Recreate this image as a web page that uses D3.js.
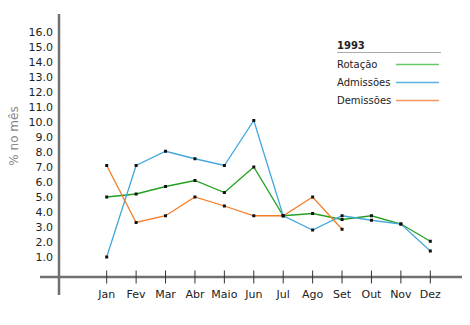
<!DOCTYPE html>
<html><head><meta charset="utf-8">
<script src="https://cdn.jsdelivr.net/npm/d3@7"></script>
<style>body{margin:0;background:#fff}svg{display:block}</style>
</head><body>
<svg id="c" width="470" height="325"></svg>
<script>
const months = ["Jan","Fev","Mar","Abr","Maio","Jun","Jul","Ago","Set","Out","Nov","Dez"];
const rotacao = [5.0, 5.2, 5.7, 6.1, 5.3, 7.0, 3.75, 3.9, 3.5, 3.75, 3.2, 2.05];
const admissoes = [1.0, 7.1, 8.05, 7.55, 7.1, 10.1, 3.75, 2.8, 3.75, 3.45, 3.2, 1.4];
const demissoes = [7.1, 3.3, 3.75, 5.0, 4.4, 3.75, 3.75, 5.0, 2.85, null, null, null];
const yTicks = [1,2,3,4,5,6,7,8,9,10,11,12,13,14,15,16];
const seriesNames = ["Rotação","Admissões","Demissões"];
const legendTitle = "1993";
const yTitle = "% no mês";

const lineColors = ["#22a022","#45a7dc","#f57c28"];
const legendColors = ["#66c766","#5ab0e0","#f8965c"];
const series = [rotacao, admissoes, demissoes];

const svg = d3.select("#c");
const font = "DejaVu Sans, Verdana, sans-serif";
const x = d3.scalePoint().domain(months).range([106.7, 430.3]);
const y = d3.scaleLinear().domain([0, 16]).range([272, 32]);

// axes lines
svg.append("line").attr("x1",59).attr("x2",59).attr("y1",14).attr("y2",295)
  .attr("stroke","#707070").attr("stroke-width",2.5);
svg.append("line").attr("x1",40).attr("x2",462).attr("y1",277).attr("y2",277)
  .attr("stroke","#707070").attr("stroke-width",2.5);

// y ticks labels
svg.append("g").selectAll("text").data(yTicks).join("text")
  .attr("x",53).attr("y",d=>y(d)).attr("dy","0.35em").attr("text-anchor","end")
  .attr("font-family",font).attr("font-size",11).attr("fill","#222")
  .text(d=>d3.format(".1f")(d));

// x ticks
const xg = svg.append("g");
xg.selectAll("line").data(months).join("line")
  .attr("x1",d=>x(d)).attr("x2",d=>x(d)).attr("y1",270.5).attr("y2",283.5)
  .attr("stroke","#333").attr("stroke-width",1);
xg.selectAll("text").data(months).join("text")
  .attr("x",d=>x(d)).attr("y",294).attr("dy","0.35em").attr("text-anchor","middle")
  .attr("font-family",font).attr("font-size",11).attr("fill","#222").text(d=>d);

// y title
svg.append("text").attr("transform","translate(18,136) rotate(-90)")
  .attr("text-anchor","middle").attr("font-family",font).attr("font-size",12)
  .attr("fill","#888").text(yTitle);

// lines
const line = d3.line().defined(d=>d.v!=null).x(d=>x(d.m)).y(d=>y(d.v));
series.forEach((s,i)=>{
  const data = months.map((m,j)=>({m, v:s[j]}));
  svg.append("path").datum(data).attr("d",line).attr("fill","none")
    .attr("stroke",lineColors[i]).attr("stroke-width",1.3);
});
series.forEach((s,i)=>{
  const data = months.map((m,j)=>({m, v:s[j]})).filter(d=>d.v!=null);
  svg.append("g").selectAll("rect").data(data).join("rect")
    .attr("x",d=>x(d.m)-1.5).attr("y",d=>y(d.v)-1.5).attr("width",3).attr("height",3)
    .attr("fill","#111");
});

// legend
const lg = svg.append("g");
lg.append("text").attr("x",337).attr("y",45).attr("dy","0.35em")
  .attr("font-family",font).attr("font-size",10).attr("font-weight","bold")
  .attr("fill","#222").text(legendTitle);
lg.append("line").attr("x1",337).attr("x2",441).attr("y1",52.5).attr("y2",52.5)
  .attr("stroke","#aaa").attr("stroke-width",1.2);
seriesNames.forEach((n,i)=>{
  const yy = 64 + i*18;
  lg.append("text").attr("x",337).attr("y",yy).attr("dy","0.35em")
    .attr("font-family",font).attr("font-size",10).attr("fill","#222").text(n);
  lg.append("line").attr("x1",396).attr("x2",439).attr("y1",yy+0.5).attr("y2",yy+0.5)
    .attr("stroke",legendColors[i]).attr("stroke-width",1.3);
});
</script>
</body></html>
